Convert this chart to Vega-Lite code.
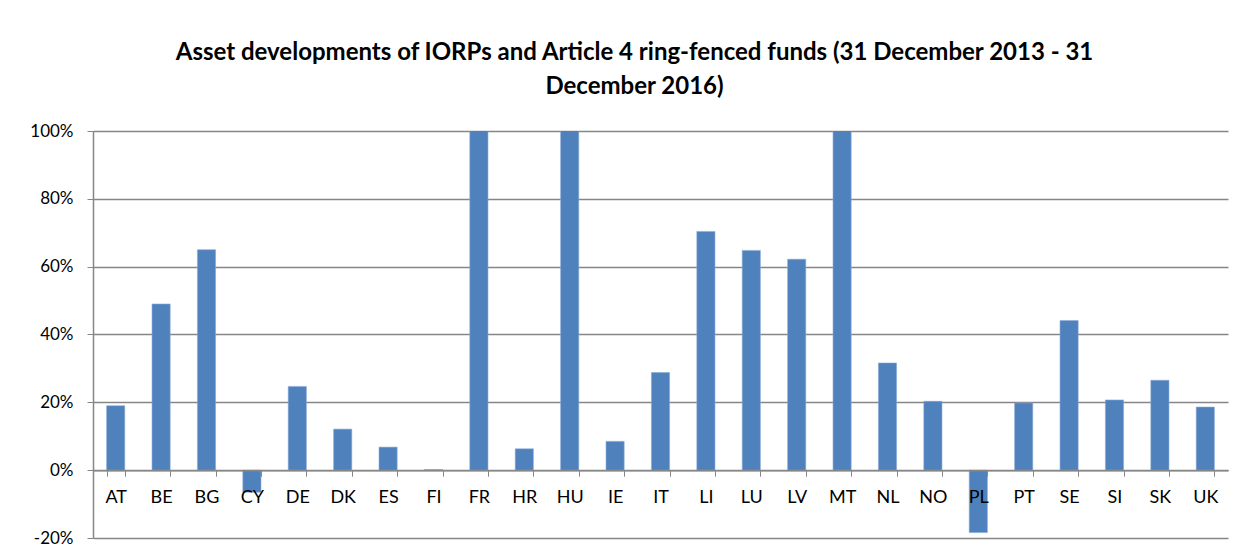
{
  "$schema": "https://vega.github.io/schema/vega-lite/v6.json",
  "autosize": {"type": "none"},
  "padding": {"left": 93, "top": 131, "right": 18, "bottom": 22},
  "width": 1135,
  "height": 407,
  "background": "white",
  "title": {
    "text": ["Asset developments of IORPs and Article 4 ring-fenced funds (31 December 2013 - 31", "December 2016)"],
    "font": "Lato",
    "fontSize": 24,
    "fontWeight": "bold",
    "color": "black",
    "anchor": "middle",
    "dx": -26,
    "offset": 23,
    "lineHeight": 34
  },
  "data": {
    "values": [
      {"country": "AT", "change": 0.19},
      {"country": "BE", "change": 0.49},
      {"country": "BG", "change": 0.65},
      {"country": "CY", "change": -0.065},
      {"country": "DE", "change": 0.247},
      {"country": "DK", "change": 0.121},
      {"country": "ES", "change": 0.068},
      {"country": "FI", "change": 0.002},
      {"country": "FR", "change": 1.2},
      {"country": "HR", "change": 0.063},
      {"country": "HU", "change": 1.2},
      {"country": "IE", "change": 0.085},
      {"country": "IT", "change": 0.288},
      {"country": "LI", "change": 0.704},
      {"country": "LU", "change": 0.648},
      {"country": "LV", "change": 0.622},
      {"country": "MT", "change": 1.2},
      {"country": "NL", "change": 0.316},
      {"country": "NO", "change": 0.203},
      {"country": "PL", "change": -0.184},
      {"country": "PT", "change": 0.198},
      {"country": "SE", "change": 0.441},
      {"country": "SI", "change": 0.207},
      {"country": "SK", "change": 0.265},
      {"country": "UK", "change": 0.186}
    ]
  },
  "mark": {"type": "bar", "color": "#4F81BD", "clip": true, "stroke": "#8AAAD6", "strokeWidth": 0.6},
  "encoding": {
    "x": {
      "field": "country",
      "type": "nominal",
      "sort": null,
      "scale": {"paddingInner": 0.6, "paddingOuter": 0.3},
      "axis": {
        "title": null,
        "offset": -67.8,
        "labelAngle": 0,
        "labelFont": "Lato",
        "labelFontSize": 18,
        "labelColor": "black",
        "labelPadding": 12,
        "tickBand": "extent",
        "tickSize": 6,
        "tickColor": "#868686",
        "domainColor": "#868686",
        "domainWidth": 1.5,
        "zindex": 1,
        "grid": false
      }
    },
    "y": {
      "field": "change",
      "type": "quantitative",
      "scale": {"domain": [-0.2, 1.0], "nice": false, "zero": false},
      "axis": {
        "title": null,
        "values": [-0.2, 0, 0.2, 0.4, 0.6, 0.8, 1.0],
        "format": ".0%",
        "labelExpr": "replace(datum.label, '\u2212', '-')",
        "labelFont": "Lato",
        "labelFontSize": 17,
        "labelColor": "black",
        "labelPadding": 14,
        "tickSize": 6,
        "tickColor": "#868686",
        "domainColor": "#868686",
        "domainWidth": 1.5,
        "gridColor": "#868686",
        "gridWidth": 1.3,
        "zindex": 0
      }
    }
  },
  "config": {"view": {"stroke": null}}
}
